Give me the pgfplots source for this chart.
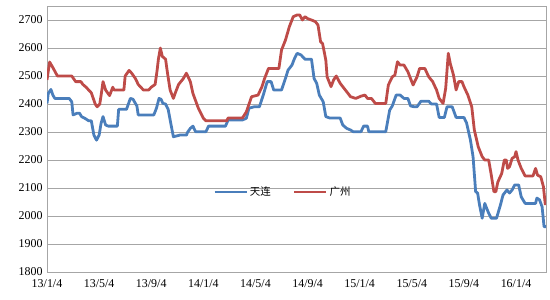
\documentclass[border=0pt]{standalone}
\usepackage{fontspec}
\setmainfont{Liberation Serif}
\newfontfamily\cjk{Noto Sans CJK SC}
\usepackage{pgfplots}
\pgfplotsset{compat=1.18}
\definecolor{dlblue}{HTML}{4A7EBB}
\definecolor{gzred}{HTML}{BE4B48}
\definecolor{gridgray}{HTML}{A6A6A6}
\begin{document}
\begin{tikzpicture}
\useasboundingbox (0,0) rectangle (550bp,300bp);
\begin{axis}[
  at={(47bp,28bp)}, anchor=south west,
  scale only axis, width=499bp, height=266bp,
  xmin=0, xmax=38.3, ymin=1800, ymax=2750,
  xtick={0,4,...,36},
  xticklabels={13/1/4,13/5/4,13/9/4,14/1/4,14/5/4,14/9/4,15/1/4,15/5/4,15/9/4,16/1/4},
  ytick={1800,1900,...,2700},
  ymajorgrids, grid style={gridgray, line width=0.8pt},
  major tick length=0pt,
  axis line style={gridgray, line width=0.8pt},
  /pgf/number format/assume math mode=true,
  /pgf/number format/1000 sep={},
  tick label style={font=\fontsize{12}{13}\selectfont, text=black},
  xticklabel style={yshift=-4bp},
  yticklabel style={xshift=-1bp},
  legend style={draw=none, fill=none, at={(axis cs:18.1,2086)}, anchor=center,
    font=\fontsize{10.5}{12}\selectfont\cjk, legend columns=2,
    /tikz/every even column/.append style={column sep=20bp}},
  legend image code/.code={\draw[#1, line width=2.8pt] (0bp,0bp) -- (32bp,0bp);},
]
\addplot[dlblue, line width=2.8pt, line join=round] coordinates {
(0,2402) (0.1,2438) (0.3,2452) (0.45,2432) (0.6,2420) (1.7,2420) (1.9,2408) (2.0,2361) (2.3,2367) (2.5,2367) (2.65,2355) (2.9,2349) (3.2,2340) (3.4,2340) (3.6,2289) (3.8,2271) (4.0,2289) (4.15,2331) (4.3,2355) (4.5,2325) (4.7,2321) (5.4,2321) (5.5,2381) (6.1,2381) (6.4,2420) (6.6,2417) (6.9,2393) (7.0,2361) (8.2,2361) (8.4,2385) (8.6,2420) (8.75,2417) (8.9,2402) (9.1,2400) (9.3,2381) (9.5,2331) (9.7,2283) (10.2,2289) (10.7,2289) (10.8,2300) (11.0,2313) (11.2,2321) (11.4,2301) (12.2,2301) (12.4,2321) (13.7,2321) (13.9,2343) (15.0,2343) (15.3,2349) (15.5,2385) (15.9,2390) (16.3,2390) (16.6,2432) (16.9,2480) (17.2,2480) (17.4,2450) (18.0,2450) (18.3,2491) (18.5,2521) (18.8,2539) (19.0,2563) (19.2,2581) (19.5,2575) (19.8,2560) (20.3,2560) (20.5,2491) (20.7,2474) (20.9,2432) (21.2,2408) (21.4,2355) (21.7,2350) (22.5,2350) (22.7,2325) (23.0,2313) (23.3,2307) (23.5,2301) (24.1,2301) (24.3,2321) (24.6,2321) (24.7,2301) (26.0,2301) (26.3,2378) (26.5,2393) (26.8,2432) (27.1,2432) (27.4,2420) (27.7,2420) (27.9,2393) (28.2,2390) (28.4,2390) (28.7,2410) (29.3,2410) (29.5,2400) (29.9,2400) (30.1,2352) (30.5,2352) (30.7,2390) (31.1,2390) (31.4,2352) (32.0,2352) (32.2,2333) (32.5,2271) (32.7,2212) (32.9,2087) (33.05,2082) (33.2,2039) (33.4,1992) (33.6,2045) (33.7,2033) (33.9,2010) (34.1,1992) (34.5,1992) (34.8,2039) (35.0,2075) (35.3,2093) (35.5,2082) (35.7,2093) (35.9,2111) (36.2,2111) (36.4,2068) (36.7,2045) (37.5,2045) (37.6,2064) (37.8,2058) (38.0,2033) (38.15,1962) (38.3,1962)
};
\addlegendentry{天连}
\addplot[gzred, line width=2.8pt, line join=round] coordinates {
(0,2486) (0.2,2550) (0.45,2530) (0.8,2500) (1.9,2500) (2.2,2480) (2.6,2480) (2.75,2470) (3.0,2460) (3.4,2440) (3.7,2400) (3.85,2390) (4.05,2400) (4.15,2430) (4.3,2480) (4.5,2450) (4.8,2430) (5.05,2460) (5.15,2450) (5.9,2450) (6.0,2500) (6.3,2520) (6.5,2510) (6.8,2490) (7.0,2470) (7.2,2460) (7.4,2450) (7.8,2450) (8.0,2460) (8.3,2470) (8.45,2520) (8.55,2560) (8.7,2600) (8.85,2570) (9.1,2560) (9.25,2510) (9.45,2450) (9.7,2420) (9.85,2440) (10.1,2470) (10.45,2490) (10.7,2510) (11.0,2480) (11.2,2438) (11.6,2387) (12.0,2349) (12.2,2340) (13.8,2340) (13.9,2350) (15.0,2350) (15.3,2372) (15.7,2426) (16.2,2432) (16.5,2462) (16.7,2491) (16.9,2515) (17.0,2527) (17.8,2527) (18.0,2593) (18.3,2628) (18.6,2676) (18.9,2712) (19.2,2718) (19.4,2718) (19.6,2700) (19.8,2712) (20.0,2705) (20.3,2700) (20.6,2694) (20.8,2682) (21.0,2622) (21.15,2616) (21.4,2557) (21.5,2497) (21.8,2462) (22.0,2486) (22.2,2500) (22.5,2474) (22.9,2450) (23.3,2426) (23.7,2420) (24.1,2428) (24.4,2432) (24.6,2420) (24.9,2420) (25.2,2402) (26.0,2402) (26.2,2468) (26.5,2497) (26.7,2503) (26.9,2551) (27.1,2539) (27.4,2539) (27.7,2515) (27.9,2491) (28.1,2468) (28.4,2497) (28.6,2527) (29.0,2527) (29.3,2497) (29.6,2480) (29.9,2450) (30.1,2420) (30.4,2402) (30.6,2456) (30.8,2581) (30.95,2545) (31.2,2503) (31.4,2450) (31.6,2480) (31.85,2480) (32.0,2462) (32.3,2432) (32.6,2390) (32.8,2307) (33.1,2247) (33.4,2212) (33.6,2200) (33.9,2200) (34.1,2146) (34.3,2087) (34.45,2087) (34.6,2121) (34.9,2152) (35.1,2200) (35.25,2200) (35.35,2170) (35.5,2176) (35.7,2206) (35.9,2212) (36.0,2230) (36.15,2200) (36.4,2170) (36.7,2143) (37.3,2143) (37.5,2170) (37.65,2146) (37.9,2140) (38.1,2105) (38.25,2039)
};
\addlegendentry{广州}
\draw[gridgray, line width=0.8pt] (rel axis cs:0,1) -- (rel axis cs:1,1) -- (rel axis cs:1,0);
\end{axis}
\end{tikzpicture}
\end{document}
